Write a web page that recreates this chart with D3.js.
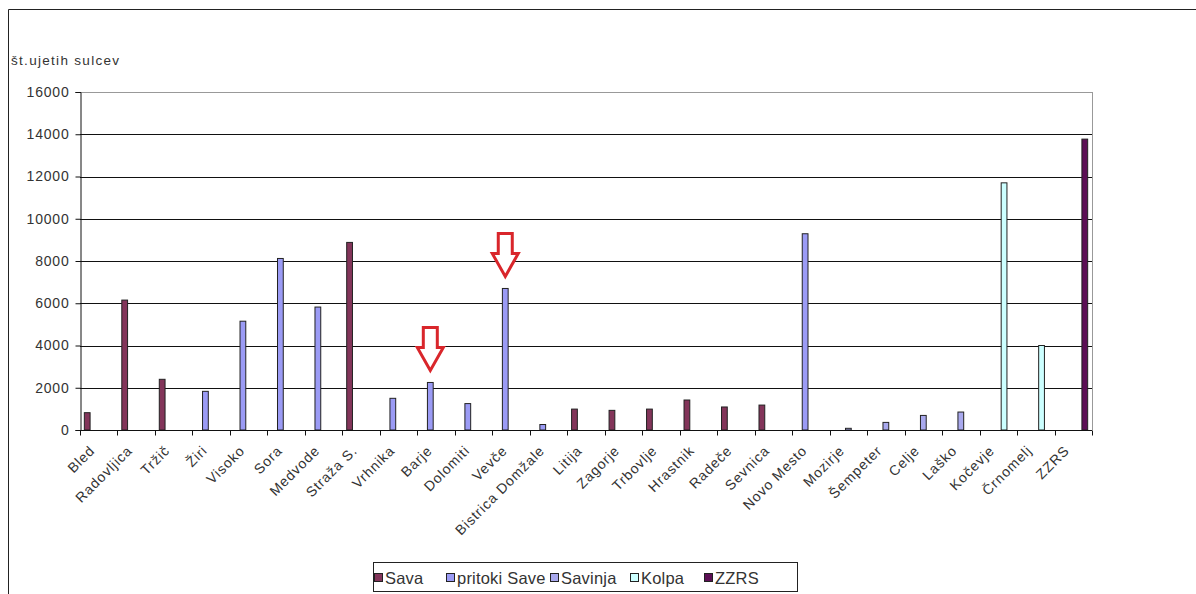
<!DOCTYPE html>
<html>
<head>
<meta charset="utf-8">
<script src="https://cdn.jsdelivr.net/npm/d3@7"></script>
<style>
  body { margin: 0; background: #fff; }
  text { font-family: "Liberation Sans", Arial, sans-serif; fill: #333; }
</style>
</head>
<body>
<svg width="1196" height="594"></svg>
<script>
// categories (sampling points) and which series each belongs to
const places = ['Bled', 'Radovljica', 'Tržič', 'Žiri', 'Visoko', 'Sora', 'Medvode', 'Straža S.',
  'Vrhnika', 'Barje', 'Dolomiti', 'Vevče', 'Bistrica Domžale', 'Litija', 'Zagorje', 'Trbovlje',
  'Hrastnik', 'Radeče', 'Sevnica', 'Novo Mesto', 'Mozirje', 'Šempeter', 'Celje', 'Laško',
  'Kočevje', 'Črnomelj', 'ZZRS'];
const counts = [820, 6150, 2400, 1830, 5150, 8120, 5820, 8880,
  1500, 2250, 1250, 6700, 260, 990, 930, 990,
  1420, 1090, 1180, 9290, 80, 360, 690, 850,
  11700, 4000, 13770];
const group = ['Sava', 'Sava', 'Sava', 'pritoki Save', 'pritoki Save', 'pritoki Save', 'pritoki Save', 'Sava',
  'pritoki Save', 'pritoki Save', 'pritoki Save', 'pritoki Save', 'pritoki Save', 'Sava', 'Sava', 'Sava',
  'Sava', 'Sava', 'Sava', 'pritoki Save', 'Savinja', 'Savinja', 'Savinja', 'Savinja',
  'Kolpa', 'Kolpa', 'ZZRS'];
const seriesNames = ['Sava', 'pritoki Save', 'Savinja', 'Kolpa', 'ZZRS'];
const seriesColors = ['#83355a', '#9b9bf5', '#a9a9ee', '#ccffff', '#5c0f55'];
const yTicks = [0, 2000, 4000, 6000, 8000, 10000, 12000, 14000, 16000];
// places marked with the red arrows
const marked = ['Barje', 'Vevče'];

const svg = d3.select('svg');

// frame around the whole picture
svg.append('path')
  .attr('d', 'M8.5,594 V9.5 H1196')
  .attr('fill', 'none')
  .attr('stroke', '#222');

const pLeft = 80, pRight = 1092, pTop = 92, pBottom = 430;

const x = d3.scaleBand().domain(places).range([pLeft, pRight]);
// excel style gap width 150%: 0.75 slot on each side of the group
const xs = d3.scaleBand().domain(seriesNames).range([0, x.bandwidth()]).paddingInner(0).paddingOuter(0.75);
const y = d3.scaleLinear().domain([0, 16000]).range([pBottom, pTop]);
const color = d3.scaleOrdinal(seriesNames, seriesColors);

// gridlines
svg.append('g')
  .selectAll('line')
  .data(yTicks.slice(1))
  .join('line')
  .attr('x1', pLeft).attr('x2', pRight)
  .attr('y1', d => Math.round(y(d)) + 0.5).attr('y2', d => Math.round(y(d)) + 0.5)
  .attr('stroke', d => d === 16000 ? '#999' : '#111');

// right border of the plot area
svg.append('line')
  .attr('x1', pRight + 0.5).attr('x2', pRight + 0.5)
  .attr('y1', pTop).attr('y2', pBottom)
  .attr('stroke', '#999');

// bars
svg.append('g')
  .selectAll('rect')
  .data(places)
  .join('rect')
  .attr('x', (d, i) => x(d) + xs(group[i]))
  .attr('width', xs.bandwidth())
  .attr('y', (d, i) => y(counts[i]))
  .attr('height', (d, i) => pBottom - y(counts[i]))
  .attr('fill', (d, i) => color(group[i]))
  .attr('stroke', '#222')
  .attr('stroke-width', 1);

// y axis
const yAxis = svg.append('g')
  .attr('transform', `translate(${pLeft + 0.5},0)`)
  .call(d3.axisLeft(y).tickValues(yTicks).tickSize(5).tickPadding(6).tickFormat(d3.format('d')));
yAxis.select('.domain').attr('stroke', '#111');
yAxis.selectAll('.tick line').attr('stroke', '#111');
yAxis.selectAll('text')
  .style('font-size', '14px')
  .style('letter-spacing', '0.8px')
  .attr('fill', '#333');

// x axis with ticks at the band boundaries
const xAxis = svg.append('g')
  .attr('transform', `translate(0,${pBottom + 0.5})`);
xAxis.append('line')
  .attr('x1', pLeft).attr('x2', pRight)
  .attr('stroke', '#111');
xAxis.selectAll('.tk')
  .data(places.concat(['end']))
  .join('line')
  .attr('class', 'tk')
  .attr('x1', (d, i) => Math.round(pLeft + i * x.step()) + 0.5)
  .attr('x2', (d, i) => Math.round(pLeft + i * x.step()) + 0.5)
  .attr('y1', 0).attr('y2', 5)
  .attr('stroke', '#111');
xAxis.selectAll('text')
  .data(places)
  .join('text')
  .attr('text-anchor', 'end')
  .attr('transform', d => `translate(${x(d) + x.bandwidth() / 2 - 3},${21}) rotate(-45)`)
  .style('font-size', '14px')
  .style('letter-spacing', '0.9px')
  .text(d => d);

// axis title
svg.append('text')
  .attr('x', 11).attr('y', 65)
  .style('font-size', '13.5px')
  .style('letter-spacing', '1.3px')
  .text('št.ujetih sulcev');

// red hollow arrows pointing down at the marked bars
const arrow = d3.line()([[-7, -43], [7, -43], [7, -23], [13, -23], [0, 0], [-13, -23], [-7, -23]]) + 'Z';
svg.append('g')
  .selectAll('path')
  .data(marked)
  .join('path')
  .attr('transform', d => `translate(${x(d) + xs('pritoki Save') + xs.bandwidth() / 2},${y(counts[places.indexOf(d)]) - 12})`)
  .attr('d', arrow)
  .attr('fill', '#fff')
  .attr('stroke', '#d9262b')
  .attr('stroke-width', 3)
  .attr('stroke-linejoin', 'miter');

// legend
const legend = svg.append('g');
legend.append('rect')
  .attr('x', 373.5).attr('y', 562.5)
  .attr('width', 424).attr('height', 29)
  .attr('fill', '#fff')
  .attr('stroke', '#222');
const legendX = [374, 446, 550, 630, 704];
const items = legend.selectAll('g')
  .data(seriesNames)
  .join('g')
  .attr('transform', (d, i) => `translate(${legendX[i]},577)`);
items.append('rect')
  .attr('x', 0.5).attr('y', -3.5)
  .attr('width', 8).attr('height', 8)
  .attr('fill', d => color(d))
  .attr('stroke', '#222');
items.append('text')
  .attr('x', 11).attr('y', 6.5)
  .style('font-size', '16.5px')
  .style('letter-spacing', '0.2px')
  .text(d => d);
</script>
</body>
</html>
